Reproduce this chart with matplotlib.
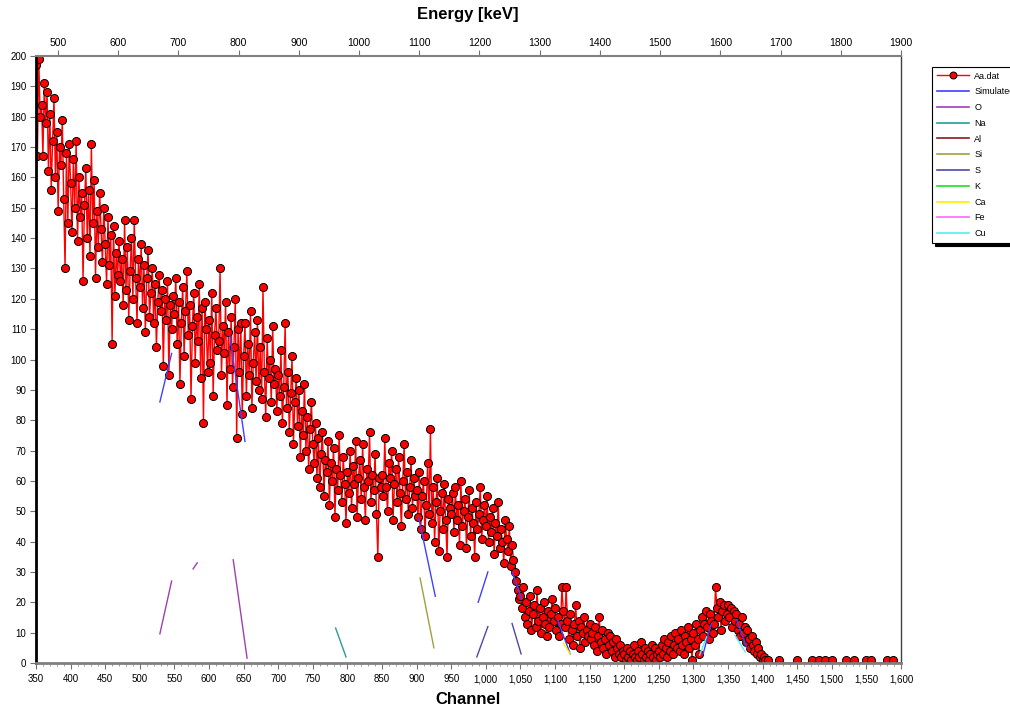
import numpy as np
import matplotlib
matplotlib.use('Agg')
import matplotlib.pyplot as plt
from matplotlib.ticker import MultipleLocator, FuncFormatter
from matplotlib.lines import Line2D

plt.rcParams['font.family'] = ['Liberation Sans', 'DejaVu Sans']

# measured counts, every 2nd channel from 350 to 1600
counts = [
    197, 167, 199, 180, 184, 167, 191, 178, 188, 162, 181, 156, 172, 186, 160, 175, 149, 170, 164, 179, 153, 130, 168, 145, 171,
    158, 142, 166, 150, 172, 139, 160, 147, 155, 126, 151, 163, 140, 156, 134, 171, 145, 159, 127, 149, 137, 155, 143, 132, 150,
    138, 125, 147, 131, 141, 105, 144, 121, 135, 128, 139, 126, 133, 118, 146, 123, 137, 113, 129, 140, 120, 146, 127, 112, 133,
    124, 138, 117, 131, 109, 127, 136, 114, 122, 130, 112, 125, 104, 119, 128, 116, 123, 98, 120, 113, 126, 95, 118, 110, 121,
    115, 127, 105, 119, 92, 112, 124, 101, 116, 129, 108, 118, 87, 111, 122, 99, 114, 106, 125, 94, 117, 79, 119, 110, 96,
    113, 99, 122, 88, 108, 117, 103, 106, 130, 95, 111, 102, 119, 85, 109, 97, 114, 91, 104, 120, 74, 110, 96, 112, 82,
    101, 112, 88, 105, 95, 116, 84, 99, 109, 93, 113, 90, 104, 87, 124, 96, 81, 107, 94, 100, 86, 111, 92, 97, 83,
    95, 88, 103, 79, 91, 112, 84, 96, 76, 89, 101, 72, 86, 94, 78, 90, 68, 83, 75, 92, 70, 81, 64, 77, 86,
    72, 66, 79, 61, 74, 58, 69, 76, 55, 67, 63, 73, 52, 66, 60, 71, 48, 64, 57, 75, 62, 53, 68, 59, 46,
    63, 56, 70, 51, 65, 59, 73, 48, 61, 67, 54, 72, 58, 47, 64, 60, 76, 53, 62, 57, 69, 49, 35, 61, 58,
    62, 55, 74, 58, 50, 66, 61, 70, 47, 59, 64, 53, 68, 56, 45, 60, 72, 54, 63, 49, 58, 67, 51, 61, 55,
    57, 48, 63, 44, 55, 60, 42, 52, 66, 49, 77, 46, 58, 40, 53, 61, 37, 50, 56, 44, 59, 47, 35, 54, 51,
    49, 56, 43, 58, 47, 52, 39, 60, 45, 50, 54, 38, 48, 57, 42, 51, 46, 35, 53, 44, 49, 58, 41, 47, 52,
    45, 55, 40, 48, 43, 51, 36, 46, 42, 53, 38, 44, 40, 33, 47, 41, 37, 45, 32, 39, 34, 30, 27, 24, 21,
    22, 18, 25, 15, 20, 13, 17, 22, 11, 16, 19, 12, 24, 14, 18, 10, 15, 20, 13, 9, 17, 12, 16, 21, 14,
    18, 11, 15, 9, 13, 25, 17, 12, 25, 14, 8, 16, 11, 6, 13, 19, 9, 14, 5, 12, 10, 15, 7, 11, 9,
    13, 8, 10, 6, 12, 4, 9, 15, 7, 11, 5, 8, 3, 10, 6, 9, 4, 7, 2, 8, 5, 3, 6, 2, 4,
    3, 1, 5, 2, 4, 1, 3, 6, 2, 1, 4, 2, 7, 3, 1, 5, 2, 4, 1, 3, 6, 2, 5, 1, 3,
    4, 2, 6, 3, 8, 5, 2, 7, 4, 9, 3, 6, 10, 5, 8, 4, 11, 6, 3, 9, 7, 12, 5, 8, 1,
    10, 6, 13, 8, 3, 11, 15, 9, 13, 17, 12, 8, 16, 14, 10, 13, 25, 18, 15, 20, 11, 17, 19, 14, 16,
    19, 15, 18, 12, 17, 14, 16, 11, 13, 9, 15, 10, 12, 7, 11, 8, 5, 9, 6, 4, 7, 3, 5, 2, 3,
    1, 2, 1, 0, 1, 0, 0, 0, 0, 0, 0, 0, 1, 0, 0, 0, 0, 0, 0, 0, 0, 0, 0, 0, 0,
    1, 0, 0, 0, 0, 0, 0, 0, 0, 0, 0, 1, 0, 0, 0, 0, 1, 0, 0, 0, 1, 0, 0, 0, 0,
    1, 0, 0, 0, 0, 0, 0, 0, 0, 0, 1, 0, 0, 0, 0, 0, 1, 0, 0, 0, 0, 0, 0, 0, 0,
    1, 0, 0, 1, 0, 0, 0, 0, 0, 0, 0, 0, 0, 0, 0, 1, 0, 0, 0, 1, 0, 0, 0, 0, 0,
    0,
]
channels = 350 + 2 * np.arange(len(counts))

# visible pieces of the simulated / element curves: (ch0, y0, ch1, y1)
sim_segs = [(529, 86, 546, 102), (630, 108, 652, 73), (903, 48, 927, 22),
            (989, 20, 1003, 30), (1038, 30, 1052, 21), (1104, 14, 1122, 3),
            (1314, 3, 1326, 13), (1363, 14, 1377, 5)]
o_segs = [(529, 9.6, 546, 27), (577, 31, 583, 33), (635, 34, 655, 1.6)]
na_segs = [(783, 11.5, 798, 2)]
si_segs = [(905, 28, 925, 5)]
s_segs = [(987, 2, 1003, 12), (1038, 13, 1051, 3)]
ca_segs = [(1112, 6.5, 1122, 3)]
cu_segs = [(1309, 2.6, 1319, 8.6), (1360, 9.2, 1375, 3.6)]
al_segs = []
k_segs = []
fe_segs = []

elements = [
    ('Simulated', '#4040ff', sim_segs),
    ('O', '#a040b0', o_segs),
    ('Na', '#2a9a9a', na_segs),
    ('Al', '#8b1a1a', al_segs),
    ('Si', '#a0a040', si_segs),
    ('S', '#4a4aa8', s_segs),
    ('K', '#22dd22', k_segs),
    ('Ca', '#ffee00', ca_segs),
    ('Fe', '#ff66ff', fe_segs),
    ('Cu', '#55eeee', cu_segs),
]

# energy calibration
gain = 1.1492
offset = 61.3


def ch_to_e(c):
    return offset + gain * np.asarray(c)


def e_to_ch(e):
    return (np.asarray(e) - offset) / gain


fig = plt.figure(figsize=(10.1, 7.12), dpi=100)
ax = fig.add_axes([36 / 1010, 1 - 663 / 712, 865 / 1010, 607 / 712])

cnt = np.array(counts, dtype=float)
ax.plot(channels, cnt, color='red', lw=1, zorder=2,
        marker='o', ms=5.8, mfc='red', mec='black', mew=0.7,
        markevery=list(cnt > 0))

handles = [Line2D([], [], color='red', lw=1, marker='o', ms=5, mfc='red',
                  mec='black', mew=0.7, label='Aa.dat')]
for name, col, segs in elements:
    for c0, y0, c1, y1 in segs:
        ax.plot([c0, c1], [y0, y1], color=col, lw=1, zorder=3)
    handles.append(Line2D([], [], color=col, lw=1.2, label=name))

ax.set_xlim(350, 1600)
ax.set_ylim(0, 200)
ax.xaxis.set_major_locator(MultipleLocator(50))
ax.xaxis.set_minor_locator(MultipleLocator(10))
ax.xaxis.set_major_formatter(FuncFormatter(lambda v, p: '{:,.0f}'.format(v)))
ax.yaxis.set_major_locator(MultipleLocator(10))
ax.tick_params(axis='both', which='major', labelsize=7, length=4,
               color='#707070', direction='out', pad=3)
ax.tick_params(axis='x', which='minor', length=2.5, color='#909090')
ax.tick_params(axis='x', pad=4)

ax.spines['left'].set_linewidth(2)
ax.spines['left'].set_color('black')
ax.spines['bottom'].set_linewidth(2)
ax.spines['bottom'].set_color('#808080')
ax.spines['top'].set_linewidth(1.5)
ax.spines['top'].set_color('#808080')
ax.spines['right'].set_linewidth(1)
ax.spines['right'].set_color('#404040')

top = ax.secondary_xaxis('top', functions=(ch_to_e, e_to_ch))
top.set_xticks(np.arange(500, 2000, 100))
top.tick_params(labelsize=7.5, length=4, color='#707070', pad=2)
top.spines['top'].set_visible(False)

fig.text(468 / 1010, 1 - 15 / 712, 'Energy [keV]', ha='center', va='center',
         fontsize=12, fontweight='bold')
fig.text(468 / 1010, 1 - 700 / 712, 'Channel', ha='center', va='center',
         fontsize=12, fontweight='bold')

leg = fig.legend(handles=handles, loc='upper left',
                 bbox_to_anchor=(932 / 1010, 1 - 67 / 712),
                 bbox_transform=fig.transFigure, fontsize=6.5,
                 frameon=True, fancybox=False, borderaxespad=0,
                 handlelength=3.6, handletextpad=0.6, labelspacing=0.75,
                 borderpad=0.5, shadow={'color': 'black', 'alpha': 1})
leg.get_frame().set_edgecolor('black')
leg.get_frame().set_linewidth(0.8)

fig.savefig('out.png', dpi=100)
